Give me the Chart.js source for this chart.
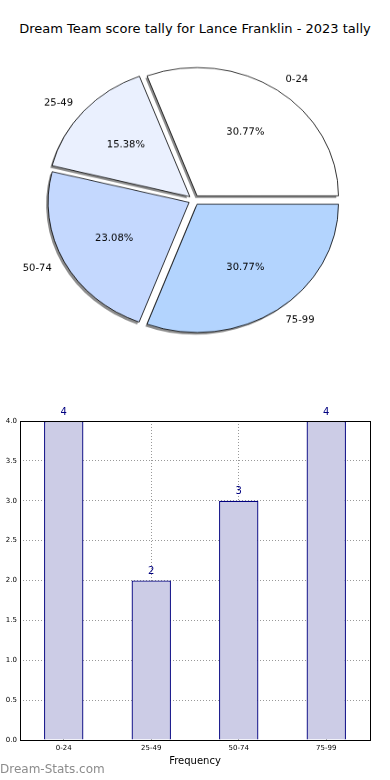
<!DOCTYPE html>
<html lang="en">
<head>
<meta charset="UTF-8">
<title>Dream Team score tally</title>
<script src="https://cdn.jsdelivr.net/npm/chart.js@4.4.1/dist/chart.umd.min.js"></script>
<style>
  body { margin: 0; width: 390px; height: 780px; position: relative; background: #fff; overflow: hidden; font-family: "DejaVu Sans", sans-serif; }
  #title { position: absolute; left: 0; top: 21px; width: 390px; text-align: center; font-size: 13px; color: #000; }
  #pieWrap { position: absolute; left: -1px; top: 40px; width: 390px; height: 320px; transform: scaleY(0.908); transform-origin: 50% 50%; }
  #barWrap { position: absolute; left: 0; top: 380px; width: 390px; height: 400px; }
  #mark { position: absolute; left: 0; top: 762px; font-size: 12px; color: #8c8c8c; }
</style>
</head>
<body>
<div id="title">Dream Team score tally for Lance Franklin - 2023 tally</div>
<div id="pieWrap"><canvas id="pie"></canvas></div>
<div id="barWrap"><canvas id="bar"></canvas></div>
<div id="mark">Dream-Stats.com</div>

<script>
// data
const categories = ['0-24', '25-49', '50-74', '75-99'];
const counts = [4, 2, 3, 4];
const sliceColors = ['#ffffff', '#eaf0fe', '#c4d8fe', '#b3d4fe'];

const squash = 0.908; // pie is drawn a bit flatter than a circle
const total = counts.reduce((a, b) => a + b, 0);

// chart.js draws clockwise, the original goes counter-clockwise from 3 o'clock
const pieLabels = categories.slice().reverse();
const pieCounts = counts.slice().reverse();
const pieColors = sliceColors.slice().reverse();

// same shift chart.js uses when it draws an offset arc
function arcShift(arc, p) {
    const o = (arc.options.offset || 0) / 4;
    const circ = p.endAngle - p.startAngle;
    const fix = 1 - Math.sin(Math.min(Math.PI, circ));
    return o + o * fix;
}

// shadow + labels for the pie
const pieExtras = {
    id: 'pieExtras',
    beforeDatasetsDraw(chart) {
        const ctx = chart.ctx;
        ctx.save();
        ctx.fillStyle = 'rgba(0,0,0,0.45)';
        chart.getDatasetMeta(0).data.forEach(arc => {
            const p = arc.getProps(['x', 'y', 'startAngle', 'endAngle', 'outerRadius'], true);
            const mid = (p.startAngle + p.endAngle) / 2;
            const sh = arcShift(arc, p);
            const cx = p.x + Math.cos(mid) * sh - 2;
            const cy = p.y + Math.sin(mid) * sh + 2.5;
            ctx.beginPath();
            ctx.moveTo(cx, cy);
            ctx.arc(cx, cy, p.outerRadius, p.startAngle, p.endAngle);
            ctx.closePath();
            ctx.fill();
        });
        ctx.restore();
    },
    afterDatasetsDraw(chart) {
        const ctx = chart.ctx;
        const meta = chart.getDatasetMeta(0);
        ctx.save();
        ctx.font = '10px "DejaVu Sans"';
        ctx.fillStyle = '#000';
        ctx.textBaseline = 'middle';
        meta.data.forEach((arc, i) => {
            const p = arc.getProps(['x', 'y', 'startAngle', 'endAngle', 'outerRadius'], true);
            const mid = (p.startAngle + p.endAngle) / 2;
            const off = arcShift(arc, p);
            const c = Math.cos(mid), s = Math.sin(mid);

            const pct = (pieCounts[i] / total * 100).toFixed(2) + '%';
            const r1 = off + p.outerRadius * 0.6;
            ctx.save();
            ctx.translate(p.x + c * r1, p.y + s * r1);
            ctx.scale(1, 1 / squash);
            ctx.textAlign = 'center';
            ctx.fillText(pct, 0, 0);
            ctx.restore();

            const r2 = off + p.outerRadius * 1.1;
            ctx.save();
            ctx.translate(p.x + c * r2, p.y + s * r2);
            ctx.scale(1, 1 / squash);
            ctx.textAlign = c >= 0 ? 'left' : 'right';
            ctx.fillText(pieLabels[i], 0, 0);
            ctx.restore();
        });
        ctx.restore();
    }
};

new Chart(document.getElementById('pie'), {
    type: 'pie',
    data: {
        labels: pieLabels,
        datasets: [{
            data: pieCounts,
            backgroundColor: pieColors,
            borderColor: '#000',
            borderWidth: 0.8,
            offset: 22,
            hoverOffset: 0
        }]
    },
    options: {
        responsive: true,
        maintainAspectRatio: false,
        animation: false,
        rotation: 90,
        radius: 141,
        layout: { padding: 0 },
        plugins: { legend: { display: false }, tooltip: { enabled: false } }
    },
    plugins: [pieExtras]
});

// value labels + box frame for the bars
const barExtras = {
    id: 'barExtras',
    afterDatasetsDraw(chart) {
        const { ctx, chartArea: { left, top, width, height } } = chart;
        ctx.save();
        ctx.strokeStyle = '#000';
        ctx.lineWidth = 1;
        ctx.strokeRect(Math.round(left) + 0.5, Math.round(top) + 0.5, Math.round(width), Math.round(height));
        ctx.font = '10px "DejaVu Sans"';
        ctx.fillStyle = '#000080';
        ctx.textAlign = 'center';
        ctx.textBaseline = 'middle';
        chart.getDatasetMeta(0).data.forEach((bar, i) => {
            ctx.fillText(String(counts[i]), bar.x, bar.y - 9);
        });
        ctx.restore();
    }
};

new Chart(document.getElementById('bar'), {
    type: 'bar',
    data: {
        labels: categories,
        datasets: [{
            data: counts,
            backgroundColor: '#ccccE6',
            borderColor: '#000080',
            borderWidth: 1.3,
            barPercentage: 0.45,
            categoryPercentage: 1
        }]
    },
    options: {
        responsive: true,
        maintainAspectRatio: false,
        animation: false,
        layout: { padding: { top: 41, right: 20, left: 0, bottom: 0 } },
        plugins: { legend: { display: false }, tooltip: { enabled: false } },
        scales: {
            x: {
                grid: { offset: false, color: '#999', drawTicks: false },
                border: { display: false, dash: [1, 2] },
                ticks: { color: '#000', font: { size: 7, family: 'DejaVu Sans' }, padding: 4, maxRotation: 0 },
                title: { display: true, text: 'Frequency', color: '#000', font: { size: 10, family: 'DejaVu Sans' }, padding: { top: 0, bottom: 13 } },
                afterFit(scale) { scale.height = 40; }
            },
            y: {
                min: 0,
                max: 4,
                grid: { color: '#999', drawTicks: false },
                border: { display: false, dash: [1, 2] },
                ticks: {
                    stepSize: 0.5,
                    color: '#000',
                    font: { size: 7, family: 'DejaVu Sans' },
                    padding: 3,
                    callback: v => v.toFixed(1)
                },
                afterFit(scale) { scale.width = 20; }
            }
        }
    },
    plugins: [barExtras]
});
</script>
</body>
</html>
